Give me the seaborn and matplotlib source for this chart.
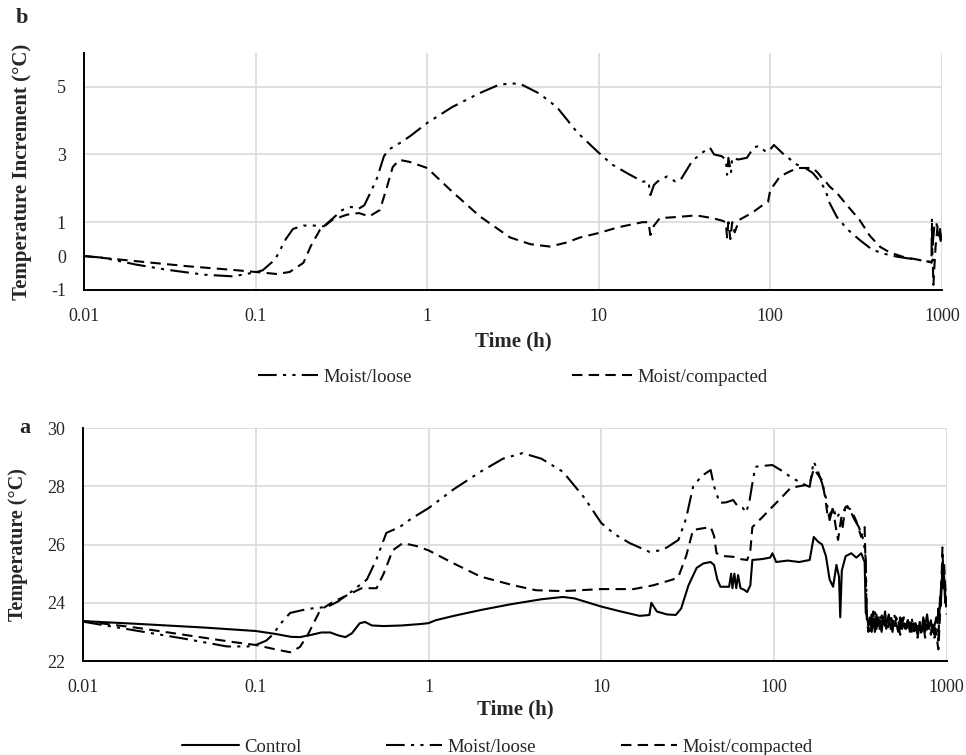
import numpy as np
import pandas as pd
import matplotlib
matplotlib.use("Agg")
import matplotlib.pyplot as plt
import seaborn as sns
from matplotlib.lines import Line2D

# ---------------- data ----------------
# Panel b: temperature increment (treatment - control)
b_loose_x = [0.01, 0.013, 0.02, 0.03, 0.05, 0.074, 0.09, 0.1, 0.11, 0.13, 0.15, 0.165, 0.19, 0.22,
             0.25, 0.28, 0.32, 0.36, 0.4, 0.43, 0.47, 0.51, 0.56, 0.6, 0.7, 0.8, 1.0, 1.4, 2.0, 2.6,
             3.04, 3.5, 4.5, 5.7, 7.5, 10, 12, 14.6, 18, 19.5, 20, 21, 22, 25, 28, 30, 35, 40, 44.5,
             47, 52, 55, 56, 57, 59, 60, 65, 73, 80, 85, 95, 100, 105, 120, 143, 160, 177, 195, 210,
             220, 244, 280, 331, 390, 450, 550, 700, 860, 870, 875, 880, 890, 905, 930, 950, 975, 1000]
b_loose_y = [0.0, -0.05, -0.25, -0.4, -0.55, -0.6, -0.52, -0.48, -0.42, -0.1, 0.5, 0.8, 0.9, 0.9,
             0.88, 1.1, 1.36, 1.45, 1.4, 1.5, 1.9, 2.3, 2.95, 3.15, 3.35, 3.55, 3.93, 4.4, 4.8, 5.05,
             5.1, 5.08, 4.8, 4.4, 3.65, 3.05, 2.7, 2.45, 2.2, 2.2, 1.8, 2.1, 2.2, 2.35, 2.2, 2.25, 2.8,
             3.05, 3.2, 3.0, 2.95, 2.85, 2.4, 2.9, 2.45, 2.9, 2.85, 2.9, 3.2, 3.25, 3.07, 3.15, 3.28,
             3.0, 2.7, 2.6, 2.45, 2.2, 1.95, 1.6, 1.16, 0.8, 0.48, 0.2, 0.08, -0.02, -0.1, -0.17,
             -0.17, 1.13, 0.0, 0.5, 0.9, 1.0, 0.5, 0.8, 0.4]

b_comp_x = [0.01, 0.02, 0.04, 0.074, 0.1, 0.133, 0.158, 0.19, 0.21, 0.237, 0.28, 0.34, 0.40, 0.46,
            0.53, 0.58, 0.63, 0.69, 0.79, 1.0, 1.4, 2.03, 3.04, 4.0, 5.2, 6.5, 7.8, 10, 13, 18, 19.5,
            20, 21, 22.7, 28, 37, 46, 52, 55, 56, 57, 58.5, 60, 62, 66, 78, 90, 97, 100, 114, 130,
            145, 177, 190, 200, 210, 222, 244, 280, 331, 380, 437, 500, 600, 750, 860, 870, 885,
            893, 905, 920, 945, 970, 1000]
b_comp_y = [0.0, -0.15, -0.3, -0.41, -0.47, -0.53, -0.47, -0.2, 0.3, 0.77, 1.07, 1.22, 1.27, 1.17,
            1.36, 2.0, 2.63, 2.84, 2.78, 2.6, 1.9, 1.17, 0.55, 0.35, 0.28, 0.4, 0.55, 0.68, 0.85, 1.0,
            1.0, 0.62, 0.9, 1.12, 1.15, 1.2, 1.12, 1.05, 1.0, 0.55, 1.0, 0.5, 1.0, 0.7, 1.07, 1.27,
            1.5, 1.6, 1.95, 2.35, 2.5, 2.6, 2.6, 2.45, 2.3, 2.2, 2.05, 1.87, 1.5, 1.07, 0.6, 0.27,
            0.1, -0.03, -0.12, -0.18, -0.2, -0.1, -0.85, -0.3, 0.3, 0.9, 0.6, 0.3]

# Panel a: temperature
tail_x = [345, 352, 360, 368, 376, 384, 392, 400, 410, 420, 430, 440, 450, 462, 474, 486, 498, 510,
          524, 538, 552, 566, 580, 596, 612, 628, 644, 660, 678, 696, 714, 732, 750, 770, 790, 810,
          830, 850, 870, 885, 895, 905, 915, 925, 935, 945, 955, 965, 980, 1000]

a_ctrl_x = [0.01, 0.02, 0.05, 0.1, 0.13, 0.16, 0.18, 0.21, 0.24, 0.27, 0.3, 0.33, 0.36, 0.4, 0.43,
            0.47, 0.55, 0.7, 0.9, 1.0, 1.1, 1.4, 2.0, 3.0, 4.5, 6.0, 7.0, 10, 13, 16.7, 19, 19.5, 21,
            24, 27, 29, 32, 35.7, 39, 43, 45, 47, 49, 55, 56.5, 57.5, 59, 60.5, 62, 64, 67, 70, 73,
            75, 85, 95, 98, 103, 120, 140, 161, 167, 170, 180, 190, 200, 210, 220, 230, 238, 242,
            247, 260, 280, 300, 320, 335, 340]
a_ctrl_y = [23.37, 23.28, 23.15, 23.03, 22.93, 22.83, 22.82, 22.9, 22.98, 22.98, 22.88, 22.82, 22.95,
            23.3, 23.34, 23.22, 23.2, 23.22, 23.27, 23.3, 23.4, 23.55, 23.75, 23.95, 24.12, 24.2,
            24.15, 23.87, 23.7, 23.55, 23.58, 24.0, 23.7, 23.6, 23.58, 23.8, 24.6, 25.2, 25.35, 25.4,
            25.3, 24.8, 24.55, 24.55, 25.0, 24.5, 25.0, 24.5, 24.95, 24.5, 24.45, 24.37, 24.6, 25.47,
            25.5, 25.55, 25.7, 25.4, 25.45, 25.4, 25.47, 26.0, 26.26, 26.1, 26.0, 25.6, 24.8, 24.55,
            25.3, 24.9, 23.5, 25.1, 25.6, 25.7, 25.55, 25.7, 25.4, 23.65]
a_ctrl_tail = [23.6, 23.2, 23.5, 23.0, 23.4, 23.1, 23.6, 23.2, 23.4, 23.0, 23.5, 23.2, 23.3, 23.6,
               23.1, 23.4, 23.2, 23.3, 23.0, 23.5, 23.1, 23.3, 23.2, 23.4, 23.0, 23.3, 23.1, 23.2,
               22.9, 23.3, 23.0, 23.5, 23.2, 23.6, 23.1, 23.4, 23.0, 23.2, 23.5, 23.3, 23.8, 23.4,
               24.2, 23.9, 24.6, 25.3, 24.5, 24.9, 24.0, 24.2]

a_loose_x = [0.01, 0.02, 0.04, 0.068, 0.09, 0.1, 0.115, 0.125, 0.14, 0.158, 0.2, 0.26, 0.3, 0.35,
             0.44, 0.5, 0.57, 0.68, 0.8, 1.0, 1.4, 2.0, 2.7, 3.5, 4.5, 6, 8, 10, 12, 14.6, 19, 22, 24,
             28, 31, 34, 38, 43, 45, 48.5, 53, 58, 62, 66, 69, 72, 75, 78, 85, 98, 110, 125, 145, 161,
             167, 170, 180, 190, 200, 210, 220, 230, 240, 250, 260, 275, 290, 310, 330, 340]
a_loose_y = [23.35, 23.05, 22.75, 22.5, 22.5, 22.55, 22.7, 22.9, 23.3, 23.65, 23.79, 23.86, 24.05,
             24.34, 24.8, 25.5, 26.4, 26.6, 26.9, 27.25, 27.9, 28.5, 28.95, 29.14, 28.95, 28.5, 27.6,
             26.74, 26.35, 26.05, 25.75, 25.8, 25.9, 26.16, 26.9, 27.98, 28.35, 28.56, 28.0, 27.43,
             27.45, 27.53, 27.3, 27.26, 27.1, 27.46, 28.1, 28.67, 28.7, 28.73, 28.55, 28.32, 28.1,
             27.98, 28.6, 28.85, 28.5, 28.1, 27.6, 26.84, 27.3, 26.9, 27.08, 26.6, 27.4, 27.2, 26.9,
             26.6, 26.16, 25.5]
a_loose_tail = [23.5, 23.3, 23.0, 23.6, 23.2, 23.7, 23.1, 23.4, 23.6, 23.2, 23.3, 23.7, 23.1, 23.5,
                23.3, 23.0, 23.6, 23.2, 23.4, 23.1, 23.6, 23.3, 23.0, 23.4, 23.2, 23.5, 22.9, 23.3,
                23.1, 23.4, 22.9, 23.2, 23.0, 23.4, 23.2, 23.0, 23.3, 22.9, 23.4, 23.0, 22.7, 23.5,
                23.9, 24.4, 24.8, 25.4, 24.6, 25.0, 24.3, 23.6]

a_comp_x = [0.01, 0.02, 0.05, 0.074, 0.1, 0.13, 0.158, 0.18, 0.2, 0.236, 0.28, 0.35, 0.41, 0.5, 0.55,
            0.62, 0.71, 0.85, 1.0, 1.4, 2.0, 3.1, 4.2, 6, 10, 15.4, 20, 26, 28, 31, 34, 38, 43, 45,
            46.5, 52, 58, 64, 70, 73, 75, 86, 98, 110, 125, 155, 163, 170, 180, 190, 198, 205, 220,
            228, 235, 245, 260, 280, 300, 320, 335, 340]
a_comp_y = [23.37, 23.15, 22.8, 22.65, 22.55, 22.4, 22.3, 22.48, 22.9, 23.75, 24.03, 24.3, 24.5, 24.5,
            25.0, 25.8, 26.05, 25.95, 25.8, 25.35, 24.9, 24.6, 24.43, 24.4, 24.47, 24.47, 24.6, 24.8,
            24.9, 25.6, 26.5, 26.55, 26.6, 26.3, 25.7, 25.6, 25.58, 25.5, 25.47, 25.8, 26.6, 26.95,
            27.3, 27.6, 27.95, 28.05, 28.2, 28.6, 28.4, 28.2, 27.6, 26.95, 27.2, 26.6, 26.16, 26.9,
            27.3, 27.2, 26.8, 26.26, 26.6, 25.0]
a_comp_tail = [23.4, 23.0, 23.4, 23.2, 23.7, 23.0, 23.3, 23.5, 23.1, 23.6, 23.2, 23.4, 23.0, 23.3,
               23.6, 23.2, 23.1, 23.5, 23.3, 22.9, 23.3, 23.5, 23.1, 23.2, 23.4, 23.0, 23.3, 23.1,
               22.8, 23.2, 23.0, 23.3, 22.8, 23.1, 23.3, 22.9, 23.1, 22.8, 23.0, 22.6, 22.4, 23.0,
               23.6, 24.2, 24.9, 25.9, 25.0, 25.4, 24.6, 24.0]

x_ticks = [0.01, 0.1, 1, 10, 100, 1000]
x_ticklabels = ["0.01", "0.1", "1", "10", "100", "1000"]
b_yticks = [-1, 0, 1, 3, 5]
a_yticks = [22, 24, 26, 28, 30]

# ---------------- style ----------------
sns.set_style("white")
plt.rcParams["font.family"] = ["Liberation Serif", "DejaVu Serif"]

LOOSE = (0, (9, 3, 1.5, 3, 1.5, 3))
COMP = (0, (5, 3))
LW = 1.5
GRID = "#d9d9d9"

fig = plt.figure(figsize=(9.66, 7.55), dpi=100)
axb = fig.add_axes([0.087, 0.616, 0.888, 0.314])
axa = fig.add_axes([0.086, 0.1245, 0.894, 0.3085])


def draw(ax, x, y, ls):
    df = pd.DataFrame({"x": x, "y": y})
    sns.lineplot(data=df, x="x", y="y", ax=ax, color="black", lw=LW, linestyle=ls,
                 sort=False, estimator=None, legend=False, zorder=3)


# ---- panel b ----
draw(axb, b_loose_x, b_loose_y, LOOSE)
draw(axb, b_comp_x, b_comp_y, COMP)

# ---- panel a ----
draw(axa, a_ctrl_x + tail_x, a_ctrl_y + a_ctrl_tail, "-")
draw(axa, a_loose_x + tail_x, a_loose_y + a_loose_tail, LOOSE)
draw(axa, a_comp_x + tail_x, a_comp_y + a_comp_tail, COMP)

for ax in (axb, axa):
    ax.set_xscale("log")
    ax.set_xlim(0.01, 1000)
    ax.set_xticks(x_ticks)
    ax.set_xticklabels(x_ticklabels)
    ax.minorticks_off()
    ax.grid(False)
    for xv in x_ticks[1:]:
        ax.axvline(xv, color=GRID, lw=1.2, zorder=1)
    for s in ("top", "right"):
        ax.spines[s].set_visible(False)
    for s in ("left", "bottom"):
        ax.spines[s].set_color("black")
        ax.spines[s].set_linewidth(1.4)
    ax.tick_params(axis="x", direction="out", length=4, width=1, color="black",
                   pad=9, labelsize=13)

axb.set_ylim(-1, 6)
axb.set_yticks(b_yticks)
axb.set_yticklabels([str(v) for v in b_yticks])
for yv in [1, 3, 5]:
    axb.axhline(yv, color=GRID, lw=1.2, zorder=1)
axb.tick_params(axis="y", length=0, pad=13, labelsize=13)

axa.set_ylim(22, 30)
axa.set_yticks(a_yticks)
axa.set_yticklabels([str(v) for v in a_yticks])
for yv in [24, 26, 28, 30]:
    axa.axhline(yv, color=GRID, lw=1.2, zorder=1)
axa.tick_params(axis="y", direction="out", length=4, width=1, color="black",
                pad=9, labelsize=13)

axb.set_xlabel("Time (h)", fontsize=15, fontweight="bold")
axb.xaxis.set_label_coords(0.5, -0.175)
axb.set_ylabel("Temperature Increment (°C)", fontsize=15, fontweight="bold")
axb.yaxis.set_label_coords(-0.061, 0.5)

axa.set_xlabel("Time (h)", fontsize=15, fontweight="bold")
axa.xaxis.set_label_coords(0.5, -0.165)
axa.set_ylabel("Temperature (°C)", fontsize=14.5, fontweight="bold")
axa.yaxis.set_label_coords(-0.064, 0.5)

fig.text(22 / 966, 1 - 18 / 755, "b", fontsize=16, fontweight="bold", ha="center", va="center")
fig.text(25 / 966, 1 - 428 / 755, "a", fontsize=16, fontweight="bold", ha="center", va="center")

# ---- legends ----
hb = [Line2D([], [], color="black", lw=LW, linestyle=LOOSE),
      Line2D([], [], color="black", lw=LW, linestyle=COMP)]
fig.legend(hb, ["Moist/loose", "Moist/compacted"], loc="center",
           bbox_to_anchor=(0.531, 1 - 377 / 755), ncol=2, frameon=False, fontsize=13.5,
           handlelength=3.2, handletextpad=0.3, columnspacing=8.5)

ha = [Line2D([], [], color="black", lw=LW, linestyle="-"),
      Line2D([], [], color="black", lw=LW, linestyle=LOOSE),
      Line2D([], [], color="black", lw=LW, linestyle=COMP)]
fig.legend(ha, ["Control", "Moist/loose", "Moist/compacted"], loc="center",
           bbox_to_anchor=(0.515, 1 - 747 / 755), ncol=3, frameon=False, fontsize=13.5,
           handlelength=3.0, handletextpad=0.3, columnspacing=4.5)

fig.savefig("out.png", dpi=100)
